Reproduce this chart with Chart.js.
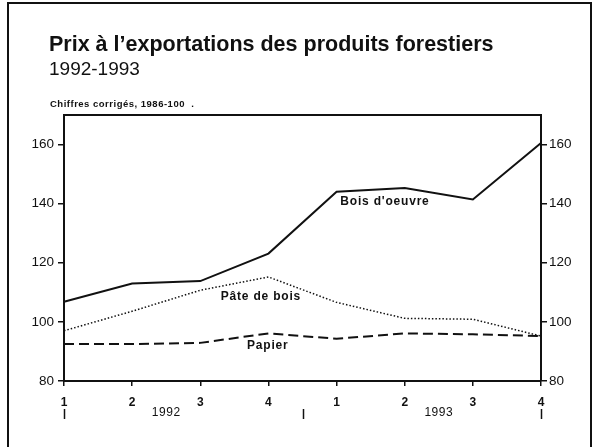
<!DOCTYPE html>
<html>
<head>
<meta charset="utf-8">
<script src="https://cdn.jsdelivr.net/npm/chart.js@4/dist/chart.umd.min.js"></script>
<style>
  body { margin: 0; background: #fff; }
  canvas { display: block; background: #fff; }
</style>
</head>
<body>
<canvas id="exportChart" width="593" height="447"></canvas>
<script>
// Indices 1986=100, données trimestrielles
var quarters = ["1", "2", "3", "4", "1", "2", "3", "4"];
var years = ["1992", "1993"];
var boisOeuvre = [106.8, 113.0, 113.8, 123.1, 144.0, 145.3, 141.4, 160.5];
var pateBois = [97.0, 103.6, 110.7, 115.2, 106.6, 101.2, 100.9, 95.2];
var papier = [92.5, 92.5, 92.9, 96.1, 94.3, 96.1, 95.8, 95.2];
var yTicks = [80, 100, 120, 140, 160];

var FONT = "'Liberation Sans', Arial, Helvetica, sans-serif";
var INK = "#111";

// series names placed in data coordinates (x index, y value)
var seriesLabels = [
  { text: "Bois d'oeuvre", x: 4.71, y: 140.8 },
  { text: "Pâte de bois", x: 2.89, y: 108.5 },
  { text: "Papier", x: 2.99, y: 91.9 },
];

var decorPlugin = {
  id: "decor",
  beforeDraw: function (chart) {
    var ctx = chart.ctx;
    ctx.save();
    ctx.fillStyle = "#fff";
    ctx.fillRect(0, 0, chart.width, chart.height);
    // cadre extérieur
    ctx.strokeStyle = INK;
    ctx.lineWidth = 2;
    ctx.beginPath();
    ctx.moveTo(8, chart.height + 5);
    ctx.lineTo(8, 3);
    ctx.lineTo(591, 3);
    ctx.lineTo(591, chart.height + 5);
    ctx.stroke();

    ctx.fillStyle = INK;
    ctx.textAlign = "left";
    ctx.textBaseline = "alphabetic";
    ctx.font = "bold 21.5px " + FONT;
    ctx.fillText("Prix à l\u2019exportations des produits forestiers", 49, 51);
    ctx.font = "19px " + FONT;
    ctx.fillText("1992-1993", 49, 75);
    ctx.font = "bold 9.5px " + FONT;
    ctx.letterSpacing = "0.5px";
    ctx.fillText("Chiffres corrigés, 1986-100  .", 50, 107);
    ctx.restore();
  },
  afterDraw: function (chart) {
    var ctx = chart.ctx;
    var area = chart.chartArea;
    var xs = chart.scales.x;
    var ys = chart.scales.y;
    ctx.save();
    ctx.strokeStyle = INK;
    ctx.lineWidth = 2;
    ctx.beginPath();
    ctx.moveTo(area.left, area.top);
    ctx.lineTo(area.right, area.top);
    ctx.stroke();

    ctx.fillStyle = INK;
    ctx.font = "bold 12px " + FONT;
    ctx.letterSpacing = "0.8px";
    ctx.textAlign = "center";
    ctx.textBaseline = "middle";
    seriesLabels.forEach(function (l) {
      ctx.fillText(l.text, xs.getPixelForValue(l.x), ys.getPixelForValue(l.y));
    });

    // années et séparateurs
    ctx.font = "12px " + FONT;
    ctx.letterSpacing = "0.5px";
    var yearY = area.bottom + 32;
    ctx.fillText(years[0], xs.getPixelForValue(1.5), yearY);
    ctx.fillText(years[1], xs.getPixelForValue(5.5), yearY);
    ctx.lineWidth = 1.5;
    [0, 3.5, 7].forEach(function (v) {
      var px = Math.round(xs.getPixelForValue(v)) + 0.5;
      ctx.beginPath();
      ctx.moveTo(px, area.bottom + 28);
      ctx.lineTo(px, area.bottom + 38);
      ctx.stroke();
    });
    ctx.restore();
  },
};

function yAxis(position, width) {
  return {
    type: "linear",
    position: position,
    min: 80,
    max: 170,
    afterBuildTicks: function (scale) {
      scale.ticks = yTicks.map(function (v) { return { value: v }; });
    },
    afterFit: function (scale) { scale.width = width; },
    grid: { drawOnChartArea: false, color: INK, lineWidth: 1.5, tickLength: 6 },
    border: { color: INK, width: 2 },
    ticks: {
      color: INK,
      padding: position === "left" ? 4 : 2,
      font: { family: FONT, size: 13.5 },
    },
  };
}

new Chart(document.getElementById("exportChart"), {
  type: "line",
  data: {
    labels: quarters,
    datasets: [
      { label: "Bois d'oeuvre", data: boisOeuvre, borderColor: INK, borderWidth: 2, yAxisID: "y" },
      { label: "Pâte de bois", data: pateBois, borderColor: INK, borderWidth: 1.5, borderDash: [1.5, 2], yAxisID: "y" },
      { label: "Papier", data: papier, borderColor: INK, borderWidth: 2, borderDash: [10, 5], yAxisID: "y" },
    ],
  },
  options: {
    responsive: false,
    animation: false,
    devicePixelRatio: 1,
    layout: { padding: { top: 115, left: 8, right: 0, bottom: 0 } },
    elements: { point: { radius: 0 }, line: { tension: 0 } },
    plugins: { legend: { display: false }, tooltip: { enabled: false } },
    scales: {
      x: {
        offset: false,
        afterFit: function (scale) { scale.height = 66; },
        grid: { drawOnChartArea: false, color: INK, lineWidth: 1.5, tickLength: 5 },
        border: { color: INK, width: 2 },
        ticks: {
          color: INK,
          padding: 9,
          maxRotation: 0,
          autoSkip: false,
          font: { family: FONT, size: 12, weight: "bold" },
        },
      },
      y: yAxis("left", 56),
      y2: yAxis("right", 52),
    },
  },
  plugins: [decorPlugin],
});
</script>
</body>
</html>
